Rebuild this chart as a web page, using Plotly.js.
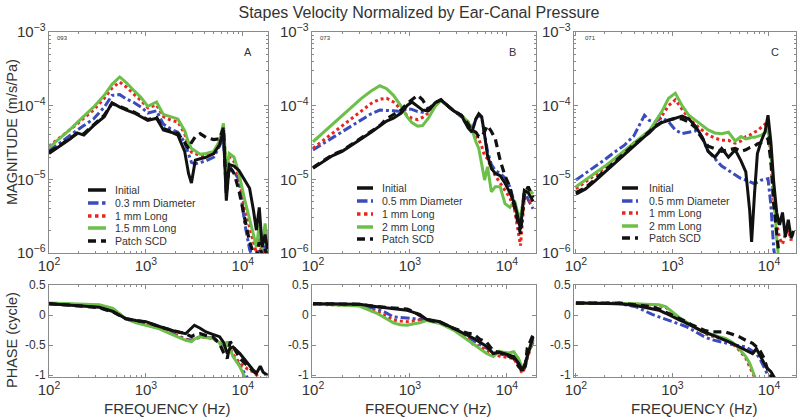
<!DOCTYPE html>
<html>
<head>
<meta charset="utf-8">
<script src="https://cdn.plot.ly/plotly-3.0.1.min.js"></script>
<style>html,body{margin:0;padding:0;background:#fff}#chart{width:800px;height:420px}</style>
</head>
<body>
<div id="chart"></div>
<script>
// ---------------- DATA ----------------
const namesA = ['Initial', '0.3 mm Diameter', '1 mm Long', '1.5 mm Long', 'Patch SCD'];
const namesB = ['Initial', '0.5 mm Diameter', '1 mm Long', '2 mm Long', 'Patch SCD'];
const namesC = ['Initial', '0.5 mm Diameter', '1 mm Long', '2 mm Long', 'Patch SCD'];
const panelIds = ['093', '073', '071'];
const panelLetters = ['A', 'B', 'C'];

// Panel A magnitude
const freqMagA = [100,126,166,195,229,288,372,447,537,631,759,891,1047,1288,1514,1820,2138,2512,2754,2951,3236,3631,4169,5012,5754,6310,6761,7244,8128,9120,10471,11749,12882,13804,14791,15849,16982,17989];
const logMagA_initial = [-4.65,-4.56,-4.45,-4.37,-4.40,-4.27,-4.15,-3.96,-4.02,-4.06,-4.10,-4.15,-4.20,-4.17,-4.33,-4.36,-4.40,-4.62,-4.92,-5.05,-4.74,-4.72,-4.70,-4.65,-4.53,-4.33,-5.29,-4.80,-4.82,-4.88,-5.02,-5.12,-5.42,-5.69,-5.38,-5.92,-5.75,-5.95];
const logMagA_diam = [-4.61,-4.52,-4.40,-4.33,-4.27,-4.18,-4.02,-3.86,-3.85,-3.91,-3.96,-4.02,-4.10,-4.07,-4.25,-4.32,-4.36,-4.50,-4.66,-4.77,-4.79,-4.77,-4.75,-4.70,-4.55,-4.42,-5.10,-4.85,-4.90,-5.00,-5.60,-5.95,-6.10,-6.05,-5.95,-6.10,-5.90,-6.05];
const logMagA_long1 = [-4.55,-4.45,-4.32,-4.25,-4.17,-4.06,-3.90,-3.76,-3.68,-3.75,-3.85,-3.93,-4.03,-3.99,-4.15,-4.20,-4.22,-4.38,-4.55,-4.63,-4.65,-4.68,-4.67,-4.65,-4.52,-4.30,-4.92,-4.70,-4.76,-4.98,-5.40,-5.65,-5.85,-6.00,-5.80,-6.05,-5.95,-6.05];
const logMagA_long2 = [-4.57,-4.46,-4.32,-4.23,-4.14,-4.02,-3.86,-3.71,-3.61,-3.69,-3.80,-3.89,-4.01,-3.95,-4.12,-4.15,-4.18,-4.34,-4.50,-4.58,-4.62,-4.66,-4.65,-4.62,-4.48,-4.24,-4.88,-4.65,-4.70,-4.92,-5.28,-5.52,-5.75,-5.92,-5.62,-5.95,-5.60,-5.85];
const logMagA_patch = [-4.63,-4.55,-4.44,-4.38,-4.38,-4.26,-4.13,-3.97,-4.01,-4.05,-4.09,-4.14,-4.19,-4.16,-4.31,-4.35,-4.38,-4.50,-4.58,-4.50,-4.42,-4.38,-4.43,-4.46,-4.45,-4.30,-5.20,-4.82,-4.92,-5.15,-5.55,-5.85,-6.00,-6.05,-5.85,-6.05,-5.95,-6.05];

// Panel B magnitude
const freqMagB = [100,126,158,200,251,316,398,490,575,676,813,933,1047,1202,1349,1549,1820,2089,2399,2818,3388,3981,4365,4786,5129,5495,5888,6310,6918,7586,8511,9550,10715,12023,12882,13804,15136,16596,18600];
const logMagB_initial = [-4.85,-4.77,-4.68,-4.62,-4.53,-4.45,-4.36,-4.28,-4.21,-4.17,-4.10,-4.00,-3.95,-4.01,-4.06,-4.07,-3.96,-3.92,-3.99,-4.07,-4.13,-4.30,-4.36,-4.18,-4.11,-4.15,-4.40,-4.68,-4.85,-4.92,-4.95,-5.05,-5.18,-5.33,-5.50,-5.68,-5.15,-5.18,-5.30];
const logMagB_diam = [-4.60,-4.52,-4.44,-4.36,-4.28,-4.20,-4.11,-4.06,-4.06,-4.07,-4.08,-4.04,-4.05,-4.08,-4.09,-4.06,-3.97,-3.93,-3.99,-4.07,-4.15,-4.28,-4.33,-4.18,-4.13,-4.16,-4.42,-4.62,-4.80,-4.88,-4.92,-4.98,-5.10,-5.33,-5.48,-5.58,-5.15,-5.28,-5.40];
const logMagB_long1 = [-4.58,-4.48,-4.38,-4.28,-4.18,-4.08,-3.97,-3.91,-3.90,-3.95,-4.05,-4.13,-4.17,-4.19,-4.16,-4.10,-3.97,-3.93,-3.99,-4.07,-4.13,-4.22,-4.30,-4.42,-4.46,-4.55,-4.68,-4.72,-4.85,-4.95,-5.05,-5.15,-5.25,-5.42,-5.65,-5.90,-5.25,-5.28,-5.35];
const logMagB_long2 = [-4.49,-4.37,-4.25,-4.13,-4.01,-3.90,-3.80,-3.73,-3.77,-3.86,-4.01,-4.15,-4.23,-4.28,-4.27,-4.17,-4.01,-3.93,-3.99,-4.07,-4.13,-4.22,-4.32,-4.49,-4.58,-4.80,-5.01,-4.83,-5.17,-5.10,-5.10,-5.33,-5.38,-5.29,-5.45,-5.51,-5.22,-5.12,-5.20];
const logMagB_patch = [-4.84,-4.76,-4.67,-4.61,-4.52,-4.44,-4.35,-4.27,-4.18,-4.12,-4.06,-3.97,-3.92,-3.86,-3.92,-4.05,-3.96,-3.92,-3.99,-4.07,-4.13,-4.25,-4.34,-4.36,-4.42,-4.42,-4.35,-4.27,-4.35,-4.45,-4.74,-4.95,-5.10,-5.40,-5.56,-5.74,-5.20,-5.10,-5.25];

// Panel C magnitude
const freqMagC = [100,126,158,200,251,316,398,457,513,575,661,776,912,1072,1259,1479,1738,2042,2344,2754,3236,3802,4467,5129,5754,6310,6607,7079,7586,8318,9120,9772,10471,11220,12023,12882,13804,14791,15849,16982,17989];
const logMagC_initial = [-5.20,-5.13,-5.02,-4.90,-4.78,-4.67,-4.54,-4.48,-4.42,-4.37,-4.29,-4.23,-4.20,-4.16,-4.14,-4.18,-4.28,-4.43,-4.62,-4.70,-4.58,-4.70,-4.60,-4.75,-4.90,-5.42,-5.85,-5.20,-4.65,-4.48,-4.35,-4.13,-4.50,-5.05,-5.45,-5.62,-5.45,-5.78,-5.55,-5.80,-5.70];
const logMagC_diam = [-5.01,-4.92,-4.83,-4.73,-4.63,-4.54,-4.41,-4.25,-4.13,-4.20,-4.22,-4.16,-4.22,-4.33,-4.38,-4.36,-4.34,-4.44,-4.62,-4.72,-4.82,-4.88,-4.94,-4.99,-5.01,-5.03,-5.05,-5.06,-5.04,-5.01,-5.00,-4.99,-5.35,-5.95,-6.20,null,null,null,null,null,null];
const logMagC_long1 = [-5.13,-5.04,-4.94,-4.84,-4.74,-4.63,-4.51,-4.45,-4.40,-4.36,-4.24,-4.14,-4.00,-3.92,-4.05,-4.17,-4.26,-4.33,-4.40,-4.44,-4.47,-4.47,-4.51,-4.48,-4.42,-4.40,-4.38,-4.36,-4.34,-4.30,-4.25,-4.20,-4.70,-5.30,-5.60,-5.80,-5.88,-5.75,-5.69,-5.83,-5.70];
const logMagC_long2 = [-5.10,-5.01,-4.92,-4.82,-4.72,-4.61,-4.50,-4.44,-4.39,-4.34,-4.22,-4.08,-3.90,-3.83,-4.00,-4.13,-4.20,-4.27,-4.33,-4.37,-4.38,-4.36,-4.48,-4.42,-4.45,-4.44,-4.43,-4.43,-4.42,-4.40,-4.37,-4.29,-4.65,-5.15,-5.80,-6.20,null,null,null,null,null];
const logMagC_patch = [-5.18,-5.11,-5.00,-4.88,-4.76,-4.65,-4.53,-4.47,-4.41,-4.36,-4.28,-4.22,-4.19,-4.17,-4.18,-4.22,-4.30,-4.45,-4.55,-4.58,-4.62,-4.60,-4.58,-4.62,-4.60,-4.57,-4.56,-4.55,-4.52,-4.50,-4.48,-4.45,-4.75,-5.35,-5.75,-6.10,null,null,null,null,null];

// Panel A phase (cycles)
const freqPhA = [100,158,219,331,457,617,794,1000,1380,1905,2570,2951,3162,3631,4169,4898,5754,6310,6918,7413,7943,9333,10471,11220,12589,13804,15136,16218,17989];
const phA_initial = [0.19,0.17,0.15,0.13,0.06,-0.06,-0.09,-0.11,-0.19,-0.26,-0.31,-0.22,-0.17,-0.22,-0.28,-0.32,-0.36,-0.45,-0.64,-0.55,-0.53,-0.64,-0.74,-0.81,-0.90,-0.97,-0.85,-0.95,-1.00];
const phA_diam = [0.19,0.18,0.17,0.16,0.10,-0.06,-0.12,-0.16,-0.22,-0.31,-0.40,-0.42,-0.39,-0.36,-0.37,-0.38,-0.45,-0.56,-0.45,-0.56,-0.68,-0.84,-0.98,-1.05,null,null,null,null,null];
const phA_long1 = [0.19,0.18,0.17,0.16,0.10,-0.06,-0.12,-0.16,-0.22,-0.32,-0.41,-0.43,-0.40,-0.37,-0.37,-0.39,-0.46,-0.57,-0.45,-0.55,-0.66,-0.80,-0.86,-0.90,-0.94,-1.00,-1.05,null,null];
const phA_long2 = [0.20,0.19,0.18,0.17,0.11,-0.06,-0.13,-0.17,-0.23,-0.33,-0.42,-0.44,-0.40,-0.36,-0.37,-0.39,-0.46,-0.58,-0.44,-0.55,-0.69,-0.86,-1.03,null,null,null,null,null,null];
const phA_patch = [0.19,0.17,0.15,0.12,0.05,-0.06,-0.09,-0.12,-0.19,-0.26,-0.31,-0.36,-0.33,-0.31,-0.34,-0.36,-0.48,-0.62,-0.72,-0.44,-0.52,-0.72,-0.80,-0.85,-0.92,-0.98,-1.05,null,null];

// Panel B phase
const freqPhB = [100,158,302,457,562,676,794,933,1072,1259,1479,1738,2042,2818,3890,4571,5248,6166,7244,8318,9333,10471,11749,13183,14454,15488,16218,18600];
const phB_initial = [0.19,0.19,0.18,0.14,0.12,0.11,0.09,0.08,0.05,0.01,-0.07,-0.09,-0.11,-0.22,-0.33,-0.39,-0.45,-0.52,-0.64,-0.62,-0.64,-0.66,-0.69,-0.80,-0.92,-0.80,-0.69,-0.36];
const phB_diam = [0.19,0.18,0.17,0.10,0.04,-0.03,-0.04,-0.04,-0.06,-0.07,-0.08,-0.10,-0.12,-0.23,-0.36,-0.42,-0.48,-0.55,-0.63,-0.64,-0.66,-0.68,-0.70,-0.82,-0.93,-0.82,-0.65,-0.45];
const phB_long1 = [0.18,0.17,0.16,0.06,-0.01,-0.08,-0.10,-0.11,-0.10,-0.08,-0.08,-0.11,-0.13,-0.24,-0.38,-0.50,-0.52,-0.58,-0.66,-0.68,-0.70,-0.71,-0.72,-0.85,-0.97,-0.85,-0.72,-0.42];
const phB_long2 = [0.19,0.17,0.15,0.03,-0.06,-0.13,-0.16,-0.17,-0.15,-0.13,-0.09,-0.11,-0.14,-0.25,-0.41,-0.48,-0.56,-0.64,-0.69,-0.60,-0.62,-0.63,-0.61,-0.72,-0.89,-0.80,-0.69,-0.40];
const phB_patch = [0.19,0.19,0.18,0.14,0.13,0.12,0.11,0.10,0.06,0.00,-0.07,-0.10,-0.12,-0.22,-0.30,-0.32,-0.40,-0.45,-0.60,-0.62,-0.65,-0.68,-0.72,-0.85,-0.94,-0.85,-0.55,-0.33];

// Panel C phase
const freqPhC = [100,158,282,417,525,617,724,851,1000,1175,1380,1622,1905,2188,2570,3020,3548,4169,4898,5754,6310,6761,7413,8128,8913,9550,10471,11482];
const phC_initial = [0.20,0.20,0.19,0.16,0.13,0.10,0.08,0.03,-0.03,-0.08,-0.13,-0.19,-0.25,-0.29,-0.33,-0.37,-0.42,-0.47,-0.53,-0.58,-0.62,-0.64,-0.56,-0.69,-0.80,-0.88,-0.94,-1.05];
const phC_diam = [0.20,0.20,0.19,0.14,0.06,0.01,-0.03,-0.07,-0.11,-0.15,-0.19,-0.25,-0.31,-0.37,-0.41,-0.44,-0.47,-0.49,-0.51,-0.53,-0.57,-0.60,-0.64,-0.74,-0.86,-0.97,-1.05,null];
const phC_long1 = [0.20,0.20,0.20,0.18,0.17,0.17,0.16,0.13,0.04,-0.05,-0.12,-0.19,-0.26,-0.31,-0.35,-0.38,-0.42,-0.47,-0.58,-0.72,-0.85,-0.97,-1.10,null,null,null,null,null];
const phC_long2 = [0.20,0.20,0.20,0.19,0.18,0.18,0.17,0.14,0.05,-0.04,-0.11,-0.18,-0.25,-0.29,-0.33,-0.36,-0.39,-0.45,-0.56,-0.69,-0.80,-0.92,-1.10,null,null,null,null,null];
const phC_patch = [0.20,0.20,0.20,0.17,0.15,0.14,0.10,0.05,0.00,-0.06,-0.11,-0.17,-0.22,-0.26,-0.28,-0.28,-0.28,-0.32,-0.36,-0.42,-0.45,-0.47,-0.53,-0.60,-0.72,-0.88,-1.00,-1.10];

// ---------------- STYLE / LAYOUT ----------------
const FONT = 'Liberation Sans, Arial, Helvetica, sans-serif';
const TXT = '#333333';
const BOX = '#8a8a8a';
const styles = [
  {color: '#111111', dash: 'solid', width: 3},
  {color: '#3a4bbd', dash: 'dashdot', width: 3},
  {color: '#e8261f', dash: 'dot', width: 3},
  {color: '#6cc04a', dash: 'solid', width: 3},
  {color: '#111111', dash: '8px,5px', width: 3.2}
];
const drawOrder = [1, 2, 3, 0, 4];
const toMag = a => a.map(v => (v === null ? null : Math.pow(10, v)));

const W = 800, H = 420;
const px = v => v / W, py = v => 1 - v / H;

const panels = [
  {names: namesA, fM: freqMagA, mags: [logMagA_initial, logMagA_diam, logMagA_long1, logMagA_long2, logMagA_patch],
   fP: freqPhA, phs: [phA_initial, phA_diam, phA_long1, phA_long2, phA_patch],
   dom: [49, 268], xr: [2, 4.26], leg: {x0: 88, x1: 106, tx: 113, rows: [190, 203, 216, 228, 241]}, idx: [55, 38], let: [248, 52], xt: 167},
  {names: namesB, fM: freqMagB, mags: [logMagB_initial, logMagB_diam, logMagB_long1, logMagB_long2, logMagB_patch],
   fP: freqPhB, phs: [phB_initial, phB_diam, phB_long1, phB_long2, phB_patch],
   dom: [312, 536], xr: [1.99, 4.30], leg: {x0: 357, x1: 373, tx: 380, rows: [188, 201, 214, 227, 239]}, idx: [318, 38], let: [512, 52], xt: 428},
  {names: namesC, fM: freqMagC, mags: [logMagC_initial, logMagC_diam, logMagC_long1, logMagC_long2, logMagC_patch],
   fP: freqPhC, phs: [phC_initial, phC_diam, phC_long1, phC_long2, phC_patch],
   dom: [574, 796], xr: [1.98, 4.28], leg: {x0: 622, x1: 638, tx: 647, rows: [188, 201, 213, 226, 238]}, idx: [583, 38], let: [775, 52], xt: 694}
];

const traces = [];
const layout = {
  width: W, height: H,
  margin: {l: 0, r: 0, t: 0, b: 0},
  paper_bgcolor: '#ffffff', plot_bgcolor: '#ffffff',
  showlegend: false,
  font: {family: FONT, color: TXT},
  title: {text: 'Stapes Velocity Normalized by Ear-Canal Pressure', x: 419 / W, xanchor: 'center', xref: 'paper',
          y: 1 - 12 / H, yanchor: 'middle', yref: 'container', font: {family: FONT, size: 16, color: TXT}},
  annotations: [], shapes: []
};

function axisBase() {
  return {showline: true, linecolor: BOX, linewidth: 1, mirror: 'allticks', ticks: 'inside', ticklen: 4,
          tickcolor: BOX, showgrid: false, zeroline: false, automargin: false, fixedrange: true,
          tickfont: {family: FONT, size: 12, color: TXT}};
}

panels.forEach((p, i) => {
  const nm = i + 1, np = i + 4;
  const xm = nm === 1 ? 'x' : 'x' + nm, ym = nm === 1 ? 'y' : 'y' + nm;
  const xp = 'x' + np, yp = 'y' + np;
  const xKeyM = nm === 1 ? 'xaxis' : 'xaxis' + nm, yKeyM = nm === 1 ? 'yaxis' : 'yaxis' + nm;
  const xKeyP = 'xaxis' + np, yKeyP = 'yaxis' + np;
  const dom = [px(p.dom[0]), px(p.dom[1])];

  layout[xKeyM] = Object.assign(axisBase(), {type: 'log', domain: dom, anchor: ym, range: p.xr, dtick: 1,
    exponentformat: 'power', minor: {ticks: 'inside', ticklen: 2, tickcolor: BOX, showgrid: false}});
  layout[yKeyM] = Object.assign(axisBase(), {type: 'log', domain: [py(253), py(32)], anchor: xm, range: [-6, -3], dtick: 1,
    exponentformat: 'power', minor: {ticks: 'inside', ticklen: 2, tickcolor: BOX, showgrid: false}});
  layout[xKeyP] = Object.assign(axisBase(), {type: 'log', domain: dom, anchor: yp, range: p.xr, dtick: 1,
    exponentformat: 'power', minor: {ticks: 'inside', ticklen: 2, tickcolor: BOX, showgrid: false}});
  layout[yKeyP] = Object.assign(axisBase(), {type: 'linear', domain: [py(377), py(285)], anchor: xp, range: [-1.03, 0.5],
    tickvals: [-1, -0.5, 0, 0.5], ticktext: ['-1', '-0.5', '0', '0.5']});

  drawOrder.forEach(k => {
    const s = styles[k];
    traces.push({type: 'scatter', mode: 'lines', name: p.names[k], x: p.fM, y: toMag(p.mags[k]), xaxis: xm, yaxis: ym,
      line: {color: s.color, width: s.width, dash: s.dash}, hoverinfo: 'skip'});
    traces.push({type: 'scatter', mode: 'lines', name: p.names[k], x: p.fP, y: p.phs[k], xaxis: xp, yaxis: yp,
      line: {color: s.color, width: s.width, dash: s.dash}, hoverinfo: 'skip'});
  });

  // legend (drawn as shapes + text)
  p.names.forEach((n, k) => {
    const s = styles[k];
    const yy = py(p.leg.rows[k]);
    layout.shapes.push({type: 'line', xref: 'paper', yref: 'paper', x0: px(p.leg.x0), x1: px(p.leg.x1), y0: yy, y1: yy,
      line: {color: s.color, width: 3.5, dash: s.dash}});
    layout.annotations.push({xref: 'paper', yref: 'paper', x: px(p.leg.tx), y: yy, xanchor: 'left', yanchor: 'middle',
      text: n, showarrow: false, font: {family: FONT, size: 10.5, color: TXT}});
  });

  layout.annotations.push({xref: 'paper', yref: 'paper', x: px(p.idx[0]), y: py(p.idx[1]), xanchor: 'left', yanchor: 'middle',
    text: panelIds[i], showarrow: false, font: {family: FONT, size: 6, color: TXT}});
  layout.annotations.push({xref: 'paper', yref: 'paper', x: px(p.let[0]), y: py(p.let[1]), xanchor: 'center', yanchor: 'middle',
    text: panelLetters[i], showarrow: false, font: {family: FONT, size: 11, color: TXT}});
  layout.annotations.push({xref: 'paper', yref: 'paper', x: px(p.xt), y: py(408), xanchor: 'center', yanchor: 'middle',
    text: 'FREQUENCY (Hz)', showarrow: false, font: {family: FONT, size: 15, color: TXT}});
});

layout.annotations.push({xref: 'paper', yref: 'paper', x: px(12), y: py(132), xanchor: 'center', yanchor: 'middle',
  textangle: -90, text: 'MAGNITUDE (m/s/Pa)', showarrow: false, font: {family: FONT, size: 14.5, color: TXT}});
layout.annotations.push({xref: 'paper', yref: 'paper', x: px(12), y: py(340), xanchor: 'center', yanchor: 'middle',
  textangle: -90, text: 'PHASE (cycle)', showarrow: false, font: {family: FONT, size: 14.5, color: TXT}});

Plotly.newPlot('chart', traces, layout, {displayModeBar: false, staticPlot: true});
</script>
</body>
</html>
